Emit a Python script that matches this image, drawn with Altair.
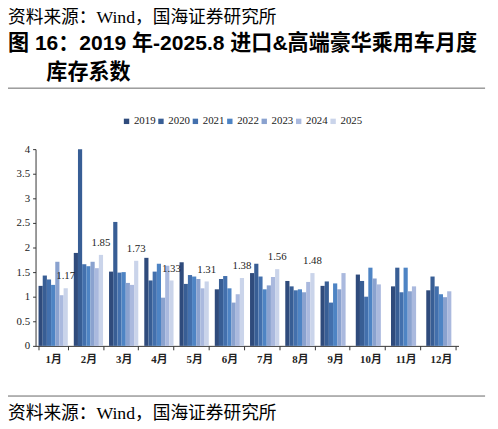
import altair as alt
import pandas as pd

months = ["1月", "2月", "3月", "4月", "5月", "6月", "7月", "8月", "9月", "10月", "11月", "12月"]
years = ["2019", "2020", "2021", "2022", "2023", "2024", "2025"]

v2019 = [1.22, 1.89, 1.51, 1.79, 1.70, 1.15, 1.48, 1.32, 1.22, 1.45, 1.21, 1.13]
v2020 = [1.43, 4.00, 2.52, 1.33, 1.26, 1.36, 1.67, 1.21, 1.31, 1.32, 1.59, 1.41]
v2021 = [1.35, 1.66, 1.49, 1.51, 1.44, 1.42, 1.41, 1.13, 0.88, 1.00, 1.09, 1.21]
v2022 = [1.24, 1.62, 1.50, 1.67, 1.41, 1.17, 1.15, 1.15, 1.27, 1.59, 1.59, 1.05]
v2023 = [1.71, 1.71, 1.28, 0.98, 1.36, 0.88, 1.23, 1.09, 1.15, 1.37, 1.11, 0.99]
v2024 = [1.03, 1.58, 1.24, 1.63, 1.17, 1.05, 1.40, 1.30, 1.48, 1.25, 1.21, 1.11]
v2025 = [1.17, 1.85, 1.73, 1.33, 1.31, 1.38, 1.56, 1.48]

series = [v2019, v2020, v2021, v2022, v2023, v2024, v2025]
colors = ["#2f4b7c", "#385e95", "#4370ad", "#4e84c4", "#8aa2cf", "#aab9de", "#cad4ea"]
y_ticks = [0, 0.5, 1, 1.5, 2, 2.5, 3, 3.5, 4]

title_line1 = "图 16：2019 年-2025.8 进口&高端豪华乘用车月度"
title_line2 = "库存系数"
source_text = "资料来源：Wind，国海证券研究所"

rows = []
for yr, vals in zip(years, series):
    for m, v in zip(months, vals):
        rows.append({"month": m, "year": yr, "value": v})
df = pd.DataFrame(rows)
lab_df = df[df["year"] == "2025"]

SERIF = "Liberation Serif, Noto Sans CJK SC"
SANS_B = "Liberation Sans, Noto Sans CJK SC"

x_enc = alt.X(
    "month:N",
    sort=months,
    scale=alt.Scale(paddingInner=0.17, paddingOuter=0.085),
    axis=alt.Axis(
        title=None,
        labelAngle=0,
        tickBand="extent",
        tickSize=4,
        labelPadding=4,
        labelFont=SERIF,
        labelFontSize=11,
        labelFontWeight="bold",
        labelColor="#222222",
        domainColor="#333333",
        tickColor="#333333",
    ),
)
xoff_enc = alt.XOffset("year:N", sort=years, scale=alt.Scale(paddingInner=0, paddingOuter=0))
y_enc = alt.Y(
    "value:Q",
    scale=alt.Scale(domain=[0, 4], nice=False),
    axis=alt.Axis(
        title=None,
        values=y_ticks,
        tickCount=9,
        labelOverlap=False,
        labelExpr="format(datum.value, '~g')",
        grid=False,
        tickSize=3,
        labelPadding=3,
        labelFont=SERIF,
        labelFontSize=11,
        labelColor="#222222",
        domainColor="#333333",
        tickColor="#333333",
    ),
)

bars = alt.Chart(df).mark_bar().encode(
    x=x_enc,
    xOffset=xoff_enc,
    y=y_enc,
    color=alt.Color(
        "year:N",
        sort=years,
        scale=alt.Scale(domain=years, range=colors),
        legend=alt.Legend(
            title=None,
            orient="none",
            direction="horizontal",
            legendX=87,
            legendY=-34,
            symbolType="square",
            symbolSize=30,
            symbolStrokeWidth=0,
            labelFont=SERIF,
            labelFontSize=11,
            labelColor="#222222",
            labelOffset=2,
            columnPadding=0,
        ),
    ),
)

labels = alt.Chart(lab_df).mark_text(
    baseline="bottom", dy=-7, font=SERIF, fontSize=11, color="#222222"
).encode(
    x=alt.X("month:N", sort=months),
    xOffset=alt.XOffset("year:N", sort=years),
    y="value:Q",
    text=alt.Text("value:Q", format=".2f"),
)

one = pd.DataFrame({"k": [0]})

def txt(s, x, y, size, weight="normal", font=SANS_B, align="left"):
    return alt.Chart(one).mark_text(
        text=s, align=align, baseline="alphabetic", fontSize=size,
        fontWeight=weight, font=font, color="#000000"
    ).encode(x=alt.value(x), y=alt.value(y))

top_src = txt(source_text, -28, -128, 18, font=SERIF)
t1 = txt(title_line1, -28, -101, 21.4, weight="bold")
t2 = txt(title_line2, 11, -71, 21.4, weight="bold")
bottom_src = txt(source_text, -28, 274, 18, font=SERIF)

rule_top = alt.Chart(one).mark_rule(color="#666666", strokeWidth=1).encode(
    x=alt.value(-28), x2=alt.value(457), y=alt.value(-62)
)
rule_bot = alt.Chart(one).mark_rule(color="#666666", strokeWidth=1).encode(
    x=alt.value(-28), x2=alt.value(457), y=alt.value(251)
)

chart = alt.layer(bars, labels, top_src, t1, t2, bottom_src, rule_top, rule_bot).properties(
    width=430,
    height=200,
    autosize=alt.AutoSizeParams(type="none"),
    padding={"left": 28, "top": 140, "right": 32, "bottom": 80},
    background="white",
).configure_view(strokeWidth=0, stroke="transparent")

chart.save("out.html", embed_options={"renderer": "svg", "actions": False})
